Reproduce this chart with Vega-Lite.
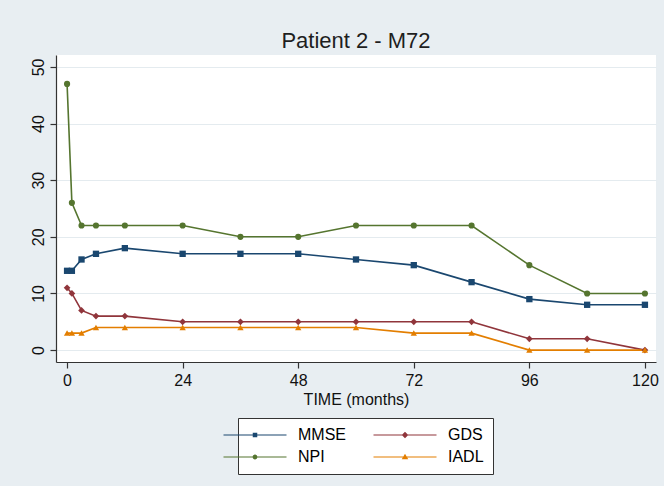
{
  "$schema": "https://vega.github.io/schema/vega-lite/v6.json",
  "width": 600,
  "height": 307,
  "autosize": {"type": "none"},
  "padding": {"left": 56, "top": 55, "right": 8, "bottom": 124},
  "background": "#e8eef2",
  "title": {"text": "Patient 2 - M72", "font": "Liberation Sans", "fontSize": 22, "fontWeight": "normal", "color": "#1e1e1e", "anchor": "middle", "baseline": "alphabetic", "offset": 7, "dy": 22},
  "config": {
    "view": {"fill": "white", "stroke": null},
    "font": "Liberation Sans",
    "axis": {"domainColor": "#333333", "tickColor": "#333333", "domainWidth": 1.2, "tickWidth": 1.2, "tickSize": 6, "labelColor": "#111111", "labelFontSize": 16, "labelFont": "Liberation Sans", "titleFont": "Liberation Sans", "titleFontSize": 16, "titleFontWeight": "normal", "titleColor": "#111111"}
  },
  "data": {"values": [
    {"t": 0, "measure": "MMSE", "score": 14},
    {"t": 1, "measure": "MMSE", "score": 14},
    {"t": 3, "measure": "MMSE", "score": 16},
    {"t": 6, "measure": "MMSE", "score": 17},
    {"t": 12, "measure": "MMSE", "score": 18},
    {"t": 24, "measure": "MMSE", "score": 17},
    {"t": 36, "measure": "MMSE", "score": 17},
    {"t": 48, "measure": "MMSE", "score": 17},
    {"t": 60, "measure": "MMSE", "score": 16},
    {"t": 72, "measure": "MMSE", "score": 15},
    {"t": 84, "measure": "MMSE", "score": 12},
    {"t": 96, "measure": "MMSE", "score": 9},
    {"t": 108, "measure": "MMSE", "score": 8},
    {"t": 120, "measure": "MMSE", "score": 8},
    {"t": 0, "measure": "GDS", "score": 11},
    {"t": 1, "measure": "GDS", "score": 10},
    {"t": 3, "measure": "GDS", "score": 7},
    {"t": 6, "measure": "GDS", "score": 6},
    {"t": 12, "measure": "GDS", "score": 6},
    {"t": 24, "measure": "GDS", "score": 5},
    {"t": 36, "measure": "GDS", "score": 5},
    {"t": 48, "measure": "GDS", "score": 5},
    {"t": 60, "measure": "GDS", "score": 5},
    {"t": 72, "measure": "GDS", "score": 5},
    {"t": 84, "measure": "GDS", "score": 5},
    {"t": 96, "measure": "GDS", "score": 2},
    {"t": 108, "measure": "GDS", "score": 2},
    {"t": 120, "measure": "GDS", "score": 0},
    {"t": 0, "measure": "NPI", "score": 47},
    {"t": 1, "measure": "NPI", "score": 26},
    {"t": 3, "measure": "NPI", "score": 22},
    {"t": 6, "measure": "NPI", "score": 22},
    {"t": 12, "measure": "NPI", "score": 22},
    {"t": 24, "measure": "NPI", "score": 22},
    {"t": 36, "measure": "NPI", "score": 20},
    {"t": 48, "measure": "NPI", "score": 20},
    {"t": 60, "measure": "NPI", "score": 22},
    {"t": 72, "measure": "NPI", "score": 22},
    {"t": 84, "measure": "NPI", "score": 22},
    {"t": 96, "measure": "NPI", "score": 15},
    {"t": 108, "measure": "NPI", "score": 10},
    {"t": 120, "measure": "NPI", "score": 10},
    {"t": 0, "measure": "IADL", "score": 3},
    {"t": 1, "measure": "IADL", "score": 3},
    {"t": 3, "measure": "IADL", "score": 3},
    {"t": 6, "measure": "IADL", "score": 4},
    {"t": 12, "measure": "IADL", "score": 4},
    {"t": 24, "measure": "IADL", "score": 4},
    {"t": 36, "measure": "IADL", "score": 4},
    {"t": 48, "measure": "IADL", "score": 4},
    {"t": 60, "measure": "IADL", "score": 4},
    {"t": 72, "measure": "IADL", "score": 3},
    {"t": 84, "measure": "IADL", "score": 3},
    {"t": 96, "measure": "IADL", "score": 0},
    {"t": 108, "measure": "IADL", "score": 0},
    {"t": 120, "measure": "IADL", "score": 0}
  ]},
  "encoding": {
    "x": {"field": "t", "type": "quantitative", "scale": {"domain": [-2.3, 122.3], "nice": false, "zero": false}, "axis": {"values": [0, 24, 48, 72, 96, 120], "grid": false, "title": "TIME (months)", "labelPadding": 4, "titlePadding": 3, "labelFlush": false}},
    "y": {"field": "score", "type": "quantitative", "scale": {"domain": [-2.1, 52.1], "nice": false, "zero": false}, "axis": {"values": [0, 10, 20, 30, 40, 50], "grid": true, "gridColor": "#e4ebef", "gridWidth": 1, "title": null, "labelAngle": 270, "labelAlign": "center", "labelBaseline": "alphabetic", "labelPadding": 7, "labelFlush": false}},
    "color": {"field": "measure", "type": "nominal", "scale": {"domain": ["MMSE", "GDS", "NPI", "IADL"], "range": ["#1a476f", "#90353b", "#55752f", "#e37e00"]},
      "legend": {"orient": "none", "legendX": 182, "legendY": 363, "direction": "horizontal", "columns": 2, "title": null, "symbolSize": 100, "labelOffset": 35, "labelFontSize": 16, "labelColor": "#000000", "labelFont": "Liberation Sans", "strokeColor": "#333333", "fillColor": "#ffffff", "padding": 9, "columnPadding": 27, "rowPadding": 6,
        "encode": {"symbols": {"update": {
          "shape": {"signal": "datum.value === 'MMSE' ? 'M-6.3,-0.12H6.3V0.12H-6.3Z M-0.45,-0.45H0.45V0.45H-0.45Z' : datum.value === 'GDS' ? 'M-6.3,-0.12H6.3V0.12H-6.3Z M0,-0.65L0.65,0L0,0.65L-0.65,0Z' : datum.value === 'NPI' ? 'M-6.3,-0.12H6.3V0.12H-6.3Z M-0.48,0A0.48,0.48 0 1,1 0.48,0A0.48,0.48 0 1,1 -0.48,0Z' : 'M-6.3,-0.12H6.3V0.12H-6.3Z M0,-0.65L0.65,0.45L-0.65,0.45Z'"},
          "fill": {"scale": "color", "field": "value"},
          "stroke": {"scale": "color", "field": "value"},
          "strokeWidth": {"value": 0},
          "opacity": {"value": 1},
          "fillOpacity": {"value": 1}
        }}}
      }
    }
  },
  "layer": [
    {"mark": {"type": "line", "strokeWidth": 1.6}, "encoding": {}},
    {"transform": [{"filter": "datum.measure === 'MMSE'"}], "mark": {"type": "point", "shape": "square", "filled": true, "size": 40, "opacity": 1}, "encoding": {}},
    {"transform": [{"filter": "datum.measure === 'GDS'"}], "mark": {"type": "point", "shape": "diamond", "filled": true, "size": 45, "opacity": 1}, "encoding": {}},
    {"transform": [{"filter": "datum.measure === 'NPI'"}], "mark": {"type": "point", "shape": "circle", "filled": true, "size": 38, "opacity": 1}, "encoding": {}},
    {"transform": [{"filter": "datum.measure === 'IADL'"}], "mark": {"type": "point", "shape": "triangle-up", "filled": true, "size": 40, "opacity": 1}, "encoding": {}}
  ]
}
